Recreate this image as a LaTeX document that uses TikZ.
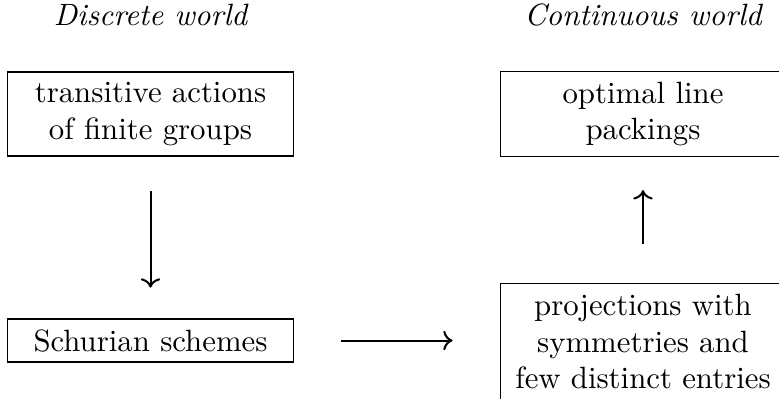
\documentclass[tikz,border=0pt]{standalone}
\usetikzlibrary{arrows.meta}
\tikzset{
  box/.style={draw, text width=86pt, align=center, inner sep=0.3333em},
  head/.style={font=\itshape, anchor=base},
  conn/.style={->, line width=0.65pt}
}
\begin{document}
\begin{tikzpicture}[x=0.3247pt,y=-0.3247pt]
\useasboundingbox (0,0) rectangle (779,398);
\clip (0,0) rectangle (779,398);
\node[head] (hd) at (150.5,26) {Discrete world};
\node[head] (hc) at (643,26) {Continuous world};
\node[box] (a) at (150.5,114) {transitive actions of finite groups};
\node[box] (s) at (150.5,340.5) {Schurian schemes};
\node[box] (o) at (643,114) {optimal line packings};
\node[box] (p) at (643,341.5) {projections with symmetries and few distinct entries};
\draw[conn, shorten <=11pt, shorten >=10pt] (a.south) -- (s.north);
\draw[conn, shorten <=15.3pt, shorten >=15.3pt] (s.east) -- (s.east -| p.west);
\draw[conn, shorten <=12.5pt, shorten >=10.7pt] (p.north) -- (o.south);
\end{tikzpicture}
\end{document}
